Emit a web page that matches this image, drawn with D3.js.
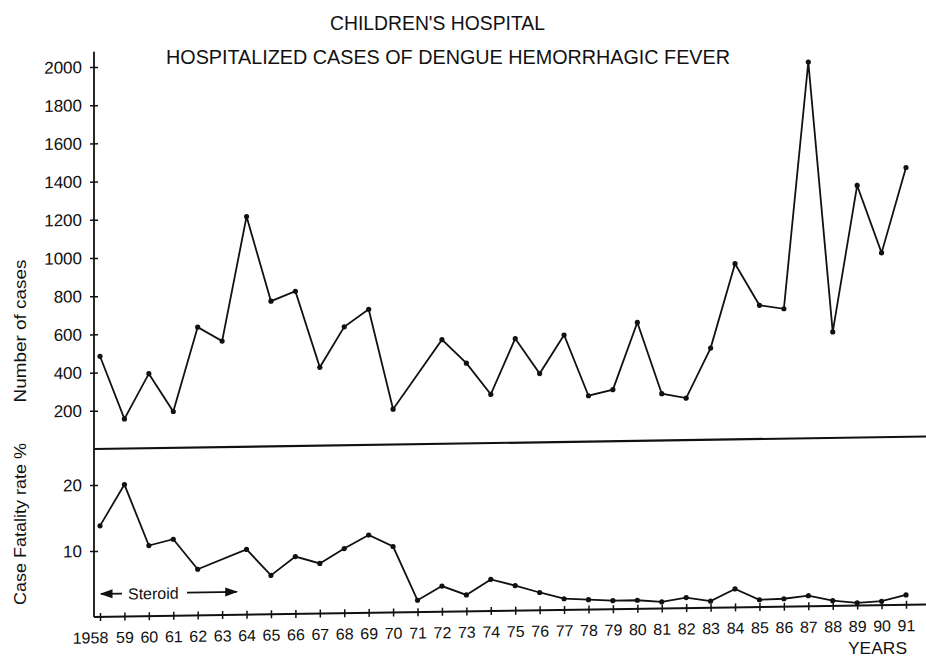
<!DOCTYPE html>
<html>
<head>
<meta charset="utf-8">
<script src="https://cdn.jsdelivr.net/npm/d3@7"></script>
<style>
  body { margin: 0; background: #fff; }
  text { font-family: "Liberation Sans", Arial, sans-serif; fill: #111; }
</style>
</head>
<body>
<script>
// data
var years = [1958,1959,1960,1961,1962,1963,1964,1965,1966,1967,1968,1969,1970,1971,1972,1973,1974,
             1975,1976,1977,1978,1979,1980,1981,1982,1983,1984,1985,1986,1987,1988,1989,1990,1991];
var yearLabels = ["1958","59","60","61","62","63","64","65","66","67","68","69","70","71","72","73","74",
                  "75","76","77","78","79","80","81","82","83","84","85","86","87","88","89","90","91"];
var cases = [485,155,390,190,630,555,1205,760,810,410,620,710,185,null,545,420,255,
             545,360,560,240,270,620,245,220,480,920,700,680,1970,555,1320,965,1410];
var fatality = [13.8,20,10.7,11.6,7.0,null,9.9,5.9,8.7,7.6,9.8,11.8,10.0,1.8,3.9,2.5,4.8,
                3.8,2.7,1.7,1.5,1.3,1.3,1.0,1.6,1.0,2.8,1.1,1.2,1.6,0.8,0.4,0.6,1.5];
var caseTicks = [200,400,600,800,1000,1200,1400,1600,1800,2000];
var fatalTicks = [10,20];
var steroidYears = [1958, 1963.6];

var w = 926, h = 659;
var svg = d3.select("body").append("svg").attr("width", w).attr("height", h);

var axisX = 94, rightX = 926;
var x = d3.scaleLinear().domain([1958, 1991]).range([100, 906]);
var yCases = d3.scaleLinear().domain([0, 2000]).range([449, 67]);
var yFat = d3.scaleLinear().domain([0, 20]).range([617, 485]);

// titles
svg.append("text").attr("x", 330).attr("y", 30).attr("font-size", 20)
    .attr("textLength", 215).attr("lengthAdjust", "spacingAndGlyphs")
    .text("CHILDREN'S HOSPITAL");
svg.append("text").attr("x", 166).attr("y", 64).attr("font-size", 20)
    .attr("textLength", 564).attr("lengthAdjust", "spacingAndGlyphs")
    .text("HOSPITALIZED  CASES  OF  DENGUE  HEMORRHAGIC  FEVER");

// the scan is slightly tilted, reproduce it with a small skew
var slope = 0.015;
var g = svg.append("g")
    .attr("transform", "translate(0," + (axisX * slope) + ") skewY(" + (-Math.atan(slope) * 180 / Math.PI) + ")");

var defs = svg.append("defs");
defs.append("marker").attr("id", "arr").attr("viewBox", "0 0 10 10")
    .attr("refX", 9).attr("refY", 5).attr("markerWidth", 8).attr("markerHeight", 8)
    .attr("orient", "auto-start-reverse")
    .append("path").attr("d", "M0,1.5 L10,5 L0,8.5 Z").attr("fill", "#111");

// vertical axis line (both panels)
g.append("line").attr("x1", axisX).attr("x2", axisX)
    .attr("y1", yCases(2080)).attr("y2", yFat(0))
    .attr("stroke", "#111").attr("stroke-width", 1.8);

// separator / upper baseline
g.append("line").attr("x1", axisX).attr("x2", rightX)
    .attr("y1", yCases(0)).attr("y2", yCases(0))
    .attr("stroke", "#111").attr("stroke-width", 2.2);

// lower x axis line
g.append("line").attr("x1", axisX).attr("x2", rightX)
    .attr("y1", yFat(0)).attr("y2", yFat(0))
    .attr("stroke", "#111").attr("stroke-width", 2);

function styleAxis(sel) {
    sel.select(".domain").remove();
    sel.selectAll(".tick line").attr("stroke", "#111").attr("stroke-width", 1.5);
    sel.selectAll(".tick text").attr("fill", "#111")
        .style("font-family", "'Liberation Sans', Arial, sans-serif");
}

var ya = g.append("g").attr("transform", "translate(" + axisX + ",0)")
    .call(d3.axisLeft(yCases).tickValues(caseTicks).tickFormat(d3.format("d")).tickSize(4).tickPadding(8));
styleAxis(ya);
ya.selectAll(".tick line").attr("x1", 4);
ya.selectAll(".tick text").attr("font-size", 17);

var yb = g.append("g").attr("transform", "translate(" + axisX + ",0)")
    .call(d3.axisLeft(yFat).tickValues(fatalTicks).tickFormat(d3.format("d")).tickSize(4).tickPadding(8));
styleAxis(yb);
yb.selectAll(".tick line").attr("x1", 4);
yb.selectAll(".tick text").attr("font-size", 17);

var xa = g.append("g").attr("transform", "translate(0," + yFat(0) + ")")
    .call(d3.axisBottom(x).tickValues(years).tickFormat(function (d, i) { return yearLabels[i]; })
        .tickSize(4).tickPadding(11));
styleAxis(xa);
xa.selectAll(".tick line").attr("y1", -4);
xa.selectAll(".tick text").attr("font-size", 16)
    .attr("dx", function (d, i) { return i === 0 ? -10 : 0; });

// series
var casePts = years.map(function (d, i) { return [d, cases[i]]; }).filter(function (p) { return p[1] != null; });
var fatPts = years.map(function (d, i) { return [d, fatality[i]]; }).filter(function (p) { return p[1] != null; });

var lineCases = d3.line().x(function (d) { return x(d[0]); }).y(function (d) { return yCases(d[1]); });
var lineFat = d3.line().x(function (d) { return x(d[0]); }).y(function (d) { return yFat(d[1]); });

g.append("path").datum(casePts).attr("d", lineCases)
    .attr("fill", "none").attr("stroke", "#111").attr("stroke-width", 1.8);
g.selectAll("circle.c").data(casePts).enter().append("circle").attr("class", "c")
    .attr("cx", function (d) { return x(d[0]); }).attr("cy", function (d) { return yCases(d[1]); })
    .attr("r", 2.6).attr("fill", "#111");

g.append("path").datum(fatPts).attr("d", lineFat)
    .attr("fill", "none").attr("stroke", "#111").attr("stroke-width", 1.8);
g.selectAll("circle.f").data(fatPts).enter().append("circle").attr("class", "f")
    .attr("cx", function (d) { return x(d[0]); }).attr("cy", function (d) { return yFat(d[1]); })
    .attr("r", 2.6).attr("fill", "#111");

// steroid annotation
var sy = 594;
g.append("line").attr("x1", x(steroidYears[0]) + 22).attr("x2", x(steroidYears[0]) + 1)
    .attr("y1", sy).attr("y2", sy).attr("stroke", "#111").attr("stroke-width", 1.6)
    .attr("marker-end", "url(#arr)");
g.append("text").attr("x", 128).attr("y", sy + 6).attr("font-size", 16).text("Steroid");
g.append("line").attr("x1", 187).attr("x2", x(steroidYears[1]))
    .attr("y1", sy).attr("y2", sy).attr("stroke", "#111").attr("stroke-width", 1.6)
    .attr("marker-end", "url(#arr)");

// axis titles
svg.append("text").attr("transform", "translate(26,331) rotate(-90)")
    .attr("text-anchor", "middle").attr("font-size", 17)
    .attr("textLength", 143).attr("lengthAdjust", "spacingAndGlyphs")
    .text("Number of cases");
svg.append("text").attr("transform", "translate(26,524) rotate(-90)")
    .attr("text-anchor", "middle").attr("font-size", 17)
    .attr("textLength", 162).attr("lengthAdjust", "spacingAndGlyphs")
    .text("Case Fatality rate %");

svg.append("text").attr("x", 848).attr("y", 654).attr("font-size", 17)
    .attr("textLength", 59).attr("lengthAdjust", "spacingAndGlyphs")
    .text("YEARS");
</script>
</body>
</html>
